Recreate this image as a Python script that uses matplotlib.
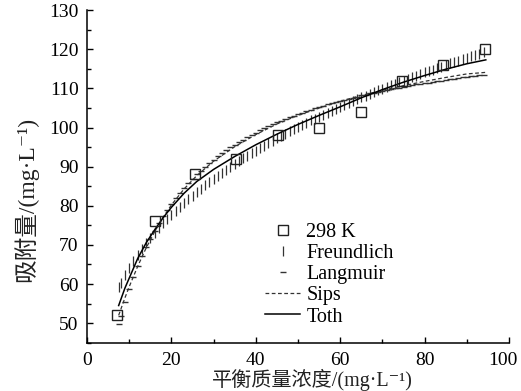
import matplotlib
matplotlib.use("Agg")
import matplotlib.pyplot as plt
import matplotlib.transforms as mtransforms
from matplotlib.ticker import MultipleLocator

plt.rcParams['font.family'] = ['Liberation Serif', 'Noto Sans CJK SC', 'DejaVu Serif']

# experimental data (298 K)
conc = [7.2, 16.0, 25.5, 35.3, 45.2, 55.0, 64.9, 74.6, 84.3, 94.2]
uptake = [52, 76, 88, 92, 98, 100, 104, 112, 116, 120]

# model curves
fit_x = [7.5] + list(range(8, 95))
freundlich_y = [59.2,
    60.3, 62.3, 64.1, 65.8, 67.4, 69.0, 70.4, 71.7, 73.0, 74.3,
    75.5, 76.6, 77.7, 78.7, 79.8, 80.8, 81.7, 82.6, 83.5, 84.4,
    85.3, 86.1, 86.9, 87.7, 88.5, 89.2, 90.0, 90.7, 91.4, 92.1,
    92.8, 93.5, 94.1, 94.8, 95.4, 96.0, 96.6, 97.3, 97.8, 98.4,
    99.0, 99.6, 100.1, 100.7, 101.2, 101.8, 102.3, 102.8, 103.3, 103.8,
    104.3, 104.8, 105.3, 105.8, 106.3, 106.8, 107.2, 107.7, 108.1, 108.6,
    109.0, 109.5, 109.9, 110.4, 110.8, 111.2, 111.6, 112.0, 112.4, 112.8,
    113.3, 113.7, 114.1, 114.4, 114.8, 115.2, 115.6, 116.0, 116.4, 116.7,
    117.1, 117.5, 117.8, 118.2, 118.6, 118.9, 119.3]
langmuir_y = [49.8,
    51.7, 55.4, 58.7, 61.8, 64.5, 67.1, 69.4, 71.6, 73.6, 75.5,
    77.3, 78.9, 80.5, 81.9, 83.3, 84.5, 85.7, 86.9, 88.0, 89.0,
    90.0, 90.9, 91.8, 92.6, 93.4, 94.2, 94.9, 95.6, 96.3, 96.9,
    97.6, 98.2, 98.7, 99.3, 99.8, 100.3, 100.8, 101.3, 101.7, 102.2,
    102.6, 103.0, 103.4, 103.8, 104.2, 104.5, 104.9, 105.2, 105.6, 105.9,
    106.2, 106.5, 106.8, 107.1, 107.4, 107.6, 107.9, 108.2, 108.4, 108.7,
    108.9, 109.1, 109.4, 109.6, 109.8, 110.0, 110.2, 110.4, 110.6, 110.8,
    111.0, 111.2, 111.4, 111.5, 111.7, 111.9, 112.0, 112.2, 112.4, 112.5,
    112.7, 112.8, 113.0, 113.1, 113.3, 113.4, 113.5]

sips_x = [7.5, 9, 10, 12, 14, 16, 18, 20, 23, 26, 30, 35, 40, 45, 50, 55,
          60, 65, 70, 75, 80, 85, 90, 94.5]
sips_y = [52.0, 56.5, 59.3, 64.5, 69.2, 73.3, 77.0, 80.2, 84.3, 87.7, 91.4,
          95.1, 98.2, 100.9, 103.1, 105.0, 106.7, 108.2, 109.5, 110.7, 111.8,
          112.8, 113.7, 114.1]

toth_x = [7.5, 9, 10, 12, 14, 16, 18, 20, 23, 26, 30, 35, 40, 45, 50, 55,
          60, 65, 70, 75, 80, 85, 90, 94.5]
toth_y = [54.5, 59.0, 61.5, 66.5, 70.5, 73.8, 76.9, 79.6, 83.2, 86.2, 89.3,
          92.6, 95.6, 98.3, 100.8, 103.1, 105.3, 107.6, 109.7, 111.6, 113.3,
          114.9, 116.3, 117.3]

x_ticks = [0, 20, 40, 60, 80, 100]
y_ticks = [50, 60, 70, 80, 90, 100, 110, 120, 130]

fig = plt.figure(figsize=(5.21, 3.91), dpi=100)
ax = fig.add_axes([0.167, 0.1235, 0.810, 0.8505])

ax.plot(conc, uptake, linestyle='none', marker='s', markersize=7,
        markerfacecolor='none', markeredgecolor='#222222', markeredgewidth=1.0,
        label='298 K', zorder=5)
ax.plot(fit_x, freundlich_y, linestyle='none', marker='|', markersize=6.5,
        markeredgewidth=0.9, color='#333333', label='Freundlich')
ax.plot(fit_x, langmuir_y, linestyle='none', marker='_', markersize=5,
        markeredgewidth=1.0, color='#333333', label='Langmuir')
ax.plot(sips_x, sips_y, linestyle=(0, (3, 2)), linewidth=0.9,
        color='#333333', label='Sips')
ax.plot(toth_x, toth_y, linestyle='-', linewidth=1.1, color='black',
        label='Toth')

ax.set_xlim(0, 100)
ax.set_ylim(45, 130)
ax.set_xticks(x_ticks)
ax.set_yticks(y_ticks)
ax.xaxis.set_minor_locator(MultipleLocator(10))
ax.yaxis.set_minor_locator(MultipleLocator(5))
ax.tick_params(which='major', direction='in', length=4.5, width=1.0,
               labelsize=14, top=False, right=False)
ax.tick_params(which='minor', direction='in', length=3, width=1.0,
               top=False, right=False)
ax.tick_params(axis='y', pad=6)
ax.tick_params(axis='x', pad=7)
for s in ['top', 'right']:
    ax.spines[s].set_visible(False)
for s in ['left', 'bottom']:
    ax.spines[s].set_linewidth(1.1)

# nudge the last x tick label slightly left, as in the reference
fig.canvas.draw()
last = ax.get_xticklabels()[-1]
last.set_transform(last.get_transform() +
                   mtransforms.ScaledTranslation(-6 / 100, 0, fig.dpi_scale_trans))

ax.set_ylabel('吸附量/(mg·L⁻¹)', fontsize=17, color='#222222', va='center')
ax.yaxis.set_label_coords(-0.1445, 0.43)
ax.set_xlabel('平衡质量浓度/(mg·L⁻¹)', fontsize=14.5, color='#222222',
              va='center')
ax.xaxis.set_label_coords(0.533, -0.113)

leg = ax.legend(loc='upper left', bbox_to_anchor=(265 / 521, 1 - 223 / 391),
                bbox_transform=fig.transFigure, frameon=False, fontsize=14.5,
                numpoints=1, handlelength=1.75, handletextpad=0.3,
                labelspacing=0.1, borderpad=0, borderaxespad=0)

fig.savefig('out.png', dpi=100)
